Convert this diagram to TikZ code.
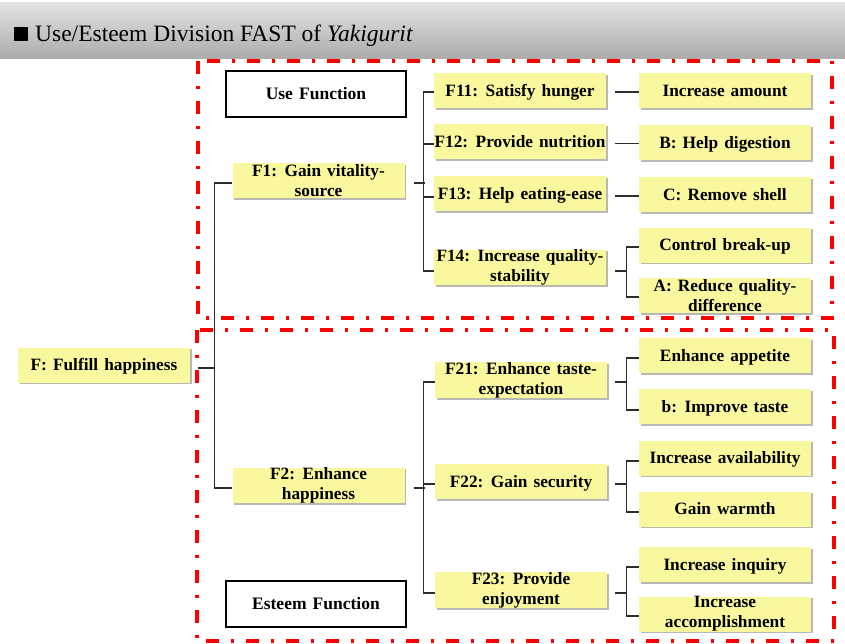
\documentclass[tikz,border=0pt]{standalone}
\usepackage{fontspec}
\setmainfont{Liberation Serif}
\newfontfamily\notefont{Liberation Serif}[WordSpace=1.4]
\usetikzlibrary{shadows}
\definecolor{notefill}{RGB}{250,248,158}
\definecolor{framered}{RGB}{255,0,0}
\definecolor{wirecol}{RGB}{45,45,45}
\definecolor{bandtop}{RGB}{228,228,228}
\definecolor{bandbot}{RGB}{172,172,172}
\begin{document}
\begin{tikzpicture}[x=1pt,y=-1pt,
  notebase/.style={fill=notefill, minimum width=172pt, minimum height=35pt,
    inner sep=0pt, align=center, font=\notefont\fontsize{17.3}{20}\selectfont\bfseries,
    drop shadow={shadow xshift=1.8pt, shadow yshift=-1.8pt, opacity=0.28, fill=black}},
  note/.style={notebase, text height=11.5pt, text depth=0pt},
  notetwo/.style={notebase},
  headbox/.style={draw=black, line width=1.1pt, fill=white, minimum width=180pt,
    minimum height=46pt, inner sep=0pt, text height=11.5pt, text depth=0pt,
    font=\notefont\fontsize{17.5}{20}\selectfont\bfseries},
  wire/.style={draw=wirecol, line width=1.3pt},
  zone/.style={draw=framered, line width=3.5pt,
    dash pattern=on 13pt off 12pt on 3pt off 12pt}
]
\useasboundingbox (0,0) rectangle (845,643);
\fill[white] (0,0) rectangle (845,643);

% title band
\shade[top color=bandtop, bottom color=bandbot] (0,2) rectangle (845,58);
\node[fill=black, minimum size=13.5pt, inner sep=0pt] (mark) at (21,34) {};
\node[anchor=base west, inner sep=0pt, font=\fontsize{23.5}{24}\selectfont] (title)
  at (35,41) {Use/Esteem Division FAST of \textit{Yakigurit}};

% use / esteem zones
\draw[zone] (198,61) rectangle (832,318);
\draw[zone] (197,330) rectangle (834,641);

% nodes
\node[note] (F) at (104,365) {F: Fulfill happiness};
\node[notetwo] (F1) at (318.5,180.5) {F1: Gain vitality-\\source};
\node[notetwo] (F2) at (318.5,485.5) {F2: Enhance\\happiness};
\node[headbox] (U) at (316,94) {Use Function};
\node[headbox] (E) at (316,604) {Esteem Function};

\node[note] (F11) at (520,90.5) {F11: Satisfy hunger};
\node[note] (F12) at (520,141.5) {F12: Provide nutrition};
\node[note] (F13) at (520,193.5) {F13: Help eating-ease};
\node[notetwo] (F14) at (520,267.5) {F14: Increase quality-\\stability};

\node[note] (R1) at (725,90.5) {Increase amount};
\node[note] (R2) at (725,142.5) {B: Help digestion};
\node[note] (R3) at (725,194.5) {C: Remove shell};
\node[note] (R4) at (725,245) {Control break-up};
\node[notetwo] (R5) at (725,295.5) {A: Reduce quality-\\difference};

\node[notetwo] (F21) at (521,380) {F21: Enhance taste-\\expectation};
\node[note] (F22) at (521,481.5) {F22: Gain security};
\node[notetwo] (F23) at (521,590) {F23: Provide\\enjoyment};

\node[note] (S1) at (725,355.5) {Enhance appetite};
\node[note] (S2) at (725,406.5) {b: Improve taste};
\node[note] (S3) at (725,458) {Increase availability};
\node[note] (S4) at (725,509) {Gain warmth};
\node[note] (S5) at (725,564.5) {Increase inquiry};
\node[notetwo] (S6) at (725,614) {Increase\\accomplishment};

% level 1
\draw[wire] ([shift={(8,3)}]F.east) -- ++(17,0);
\draw[wire] ([shift={(0,2.5)}]F1.west) -- ++(-18,0) |- ([shift={(0,2.5)}]F2.west);

% level 2, use side
\draw[wire] ([shift={(9,2.5)}]F1.east) -- ++(11,0);
\draw[wire] ([shift={(0,1.5)}]F11.west) -- ++(-10,0) |- ([shift={(0,3.5)}]F14.west);
\draw[wire] ([shift={(0,2.5)}]F12.west) -- ++(-10,0);
\draw[wire] ([shift={(0,3.5)}]F13.west) -- ++(-10,0);

% level 2, esteem side
\draw[wire] ([shift={(9,2.5)}]F2.east) -- ++(11,0);
\draw[wire] ([shift={(0,2)}]F21.west) -- ++(-11,0) |- ([shift={(0,3)}]F23.west);
\draw[wire] ([shift={(0,2.5)}]F22.west) -- ++(-11,0);

% level 3, use side
\draw[wire] ([shift={(9,1.5)}]F11.east) -- ([shift={(0,1.5)}]R1.west);
\draw[wire] ([shift={(9,2)}]F12.east) -- ([shift={(0,1)}]R2.west);
\draw[wire] ([shift={(9,2.5)}]F13.east) -- ([shift={(0,1.5)}]R3.west);
\draw[wire] ([shift={(9,3.5)}]F14.east) -- ++(12,0);
\draw[wire] ([shift={(0,2)}]R4.west) -- ++(-12,0) |- ([shift={(0,1.5)}]R5.west);

% level 3, esteem side
\draw[wire] ([shift={(8,2)}]F21.east) -- ++(12,0);
\draw[wire] ([shift={(0,2.5)}]S1.west) -- ++(-12,0) |- ([shift={(0,3.5)}]S2.west);
\draw[wire] ([shift={(8,2.5)}]F22.east) -- ++(12,0);
\draw[wire] ([shift={(0,3)}]S3.west) -- ++(-12,0) |- ([shift={(0,3)}]S4.west);
\draw[wire] ([shift={(8,3)}]F23.east) -- ++(12,0);
\draw[wire] ([shift={(0,2.5)}]S5.west) -- ++(-12,0) |- ([shift={(0,2)}]S6.west);
\end{tikzpicture}
\end{document}
